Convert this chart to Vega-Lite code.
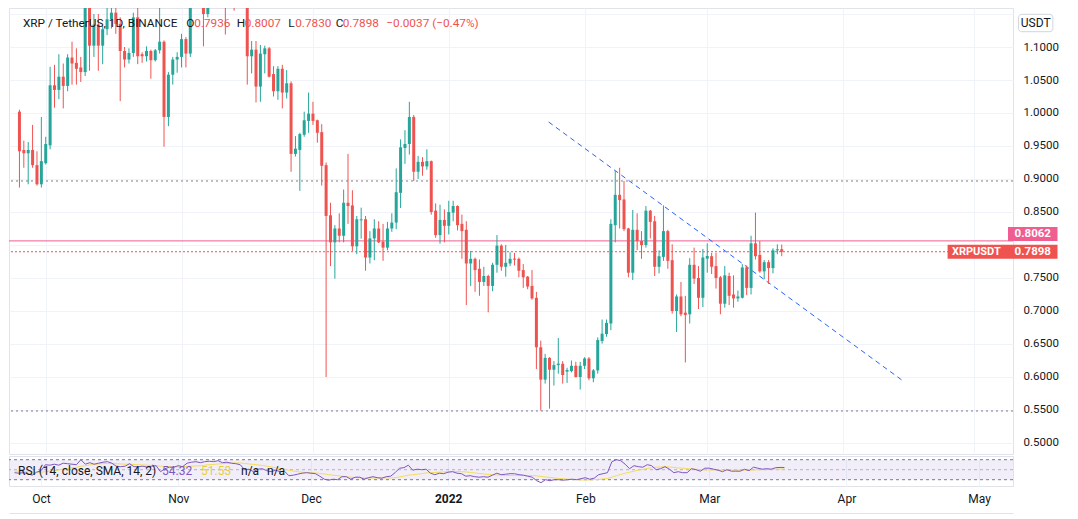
{
"$schema": "https://vega.github.io/schema/vega-lite/v6.json",
"background": "#ffffff",
"padding": {"left": 8, "top": 7, "right": 0, "bottom": 0},
"spacing": 0,
"config": {"font": "Roboto", "view": {"stroke": "#e0e3eb", "strokeWidth": 1},
  "axis": {"labelOverlap": false},
  "axisY": {"labelOverlap": false, "tickCount": 14, "grid": true, "gridColor": "#f0f3fa", "domain": false, "ticks": false, "labelPadding": 10, "labelFontSize": 11.5, "labelColor": "#131722", "labelFont": "Roboto", "labelBound": false, "labelFlush": false}},
"datasets": {
"ohlc": [
{"d":"2021-09-25","o":1.002,"h":1.005,"l":0.887,"c":0.942,"r":44,"s":47},
{"d":"2021-09-26","o":0.944,"h":0.958,"l":0.917,"c":0.939,"r":43,"s":47},
{"d":"2021-09-27","o":0.939,"h":0.956,"l":0.892,"c":0.944,"r":44,"s":46.5},
{"d":"2021-09-28","o":0.944,"h":0.982,"l":0.917,"c":0.921,"r":42,"s":46},
{"d":"2021-09-29","o":0.921,"h":0.942,"l":0.89,"c":0.892,"r":39,"s":45.5},
{"d":"2021-09-30","o":0.892,"h":0.994,"l":0.887,"c":0.927,"r":45,"s":45},
{"d":"2021-10-01","o":0.924,"h":0.964,"l":0.922,"c":0.953,"r":48,"s":45},
{"d":"2021-10-02","o":0.951,"h":1.07,"l":0.945,"c":1.042,"r":60,"s":46},
{"d":"2021-10-03","o":1.042,"h":1.073,"l":1.008,"c":1.035,"r":59,"s":47},
{"d":"2021-10-04","o":1.035,"h":1.089,"l":1.021,"c":1.055,"r":61,"s":48},
{"d":"2021-10-05","o":1.055,"h":1.075,"l":1.007,"c":1.041,"r":59,"s":49.5},
{"d":"2021-10-06","o":1.041,"h":1.089,"l":1.033,"c":1.084,"r":63,"s":51},
{"d":"2021-10-07","o":1.084,"h":1.108,"l":1.043,"c":1.075,"r":62,"s":52.5},
{"d":"2021-10-08","o":1.076,"h":1.098,"l":1.043,"c":1.067,"r":61,"s":54},
{"d":"2021-10-09","o":1.069,"h":1.085,"l":1.047,"c":1.062,"r":60,"s":55},
{"d":"2021-10-10","o":1.062,"h":1.22,"l":1.056,"c":1.185,"r":70,"s":57},
{"d":"2021-10-11","o":1.185,"h":1.205,"l":1.064,"c":1.102,"r":61,"s":58},
{"d":"2021-10-12","o":1.102,"h":1.15,"l":1.085,"c":1.134,"r":64,"s":59.5},
{"d":"2021-10-13","o":1.134,"h":1.15,"l":1.064,"c":1.102,"r":61,"s":60.5},
{"d":"2021-10-14","o":1.102,"h":1.132,"l":1.074,"c":1.127,"r":63,"s":61.5},
{"d":"2021-10-15","o":1.127,"h":1.17,"l":1.118,"c":1.142,"r":65,"s":62},
{"d":"2021-10-16","o":1.142,"h":1.175,"l":1.128,"c":1.152,"r":66,"s":62.5},
{"d":"2021-10-17","o":1.152,"h":1.17,"l":1.12,"c":1.135,"r":63,"s":62.5},
{"d":"2021-10-18","o":1.135,"h":1.145,"l":1.018,"c":1.094,"r":57,"s":62},
{"d":"2021-10-19","o":1.094,"h":1.1,"l":1.069,"c":1.081,"r":56,"s":61.5},
{"d":"2021-10-20","o":1.081,"h":1.098,"l":1.075,"c":1.091,"r":57,"s":61},
{"d":"2021-10-21","o":1.091,"h":1.152,"l":1.085,"c":1.145,"r":62,"s":61},
{"d":"2021-10-22","o":1.145,"h":1.165,"l":1.074,"c":1.086,"r":56,"s":60.5},
{"d":"2021-10-23","o":1.089,"h":1.092,"l":1.076,"c":1.086,"r":56,"s":60},
{"d":"2021-10-24","o":1.086,"h":1.101,"l":1.078,"c":1.094,"r":57,"s":59.5},
{"d":"2021-10-25","o":1.094,"h":1.096,"l":1.052,"c":1.08,"r":55,"s":59},
{"d":"2021-10-26","o":1.08,"h":1.097,"l":1.078,"c":1.095,"r":57,"s":58.5},
{"d":"2021-10-27","o":1.095,"h":1.17,"l":1.09,"c":1.108,"r":58,"s":58},
{"d":"2021-10-28","o":1.108,"h":1.11,"l":0.949,"c":0.994,"r":46,"s":57},
{"d":"2021-10-29","o":0.994,"h":1.062,"l":0.98,"c":1.058,"r":52,"s":56.5},
{"d":"2021-10-30","o":1.058,"h":1.085,"l":1.043,"c":1.081,"r":55,"s":56},
{"d":"2021-10-31","o":1.081,"h":1.092,"l":1.061,"c":1.085,"r":55,"s":55.5},
{"d":"2021-11-01","o":1.085,"h":1.12,"l":1.069,"c":1.112,"r":58,"s":55.5},
{"d":"2021-11-02","o":1.112,"h":1.115,"l":1.069,"c":1.09,"r":56,"s":56},
{"d":"2021-11-03","o":1.09,"h":1.2,"l":1.085,"c":1.185,"r":63,"s":56.5},
{"d":"2021-11-04","o":1.185,"h":1.215,"l":1.165,"c":1.2,"r":65,"s":57},
{"d":"2021-11-05","o":1.2,"h":1.225,"l":1.17,"c":1.185,"r":66,"s":57.5},
{"d":"2021-11-06","o":1.185,"h":1.2,"l":1.101,"c":1.15,"r":64,"s":58},
{"d":"2021-11-07","o":1.15,"h":1.19,"l":1.145,"c":1.18,"r":66,"s":59},
{"d":"2021-11-08","o":1.18,"h":1.24,"l":1.17,"c":1.23,"r":67,"s":60},
{"d":"2021-11-09","o":1.23,"h":1.26,"l":1.2,"c":1.245,"r":66,"s":60.5},
{"d":"2021-11-10","o":1.245,"h":1.35,"l":1.165,"c":1.215,"r":68,"s":61.5},
{"d":"2021-11-11","o":1.215,"h":1.24,"l":1.119,"c":1.18,"r":64,"s":62},
{"d":"2021-11-12","o":1.18,"h":1.22,"l":1.165,"c":1.2,"r":65,"s":62.5},
{"d":"2021-11-13","o":1.2,"h":1.215,"l":1.155,"c":1.175,"r":63,"s":63},
{"d":"2021-11-14","o":1.175,"h":1.21,"l":1.165,"c":1.19,"r":62,"s":63.5},
{"d":"2021-11-15","o":1.19,"h":1.22,"l":1.165,"c":1.175,"r":60,"s":63.5},
{"d":"2021-11-16","o":1.175,"h":1.18,"l":1.043,"c":1.086,"r":50,"s":62.5},
{"d":"2021-11-17","o":1.086,"h":1.109,"l":1.06,"c":1.096,"r":51,"s":61.5},
{"d":"2021-11-18","o":1.096,"h":1.109,"l":1.016,"c":1.04,"r":46,"s":60.5},
{"d":"2021-11-19","o":1.04,"h":1.103,"l":1.017,"c":1.09,"r":51,"s":59.5},
{"d":"2021-11-20","o":1.089,"h":1.102,"l":1.06,"c":1.098,"r":52,"s":58.5},
{"d":"2021-11-21","o":1.098,"h":1.1,"l":1.054,"c":1.055,"r":48,"s":57},
{"d":"2021-11-22","o":1.059,"h":1.071,"l":1.025,"c":1.033,"r":46,"s":55.5},
{"d":"2021-11-23","o":1.033,"h":1.071,"l":1.02,"c":1.067,"r":49,"s":54},
{"d":"2021-11-24","o":1.067,"h":1.073,"l":1.007,"c":1.031,"r":46,"s":52.5},
{"d":"2021-11-25","o":1.031,"h":1.065,"l":1.022,"c":1.045,"r":47,"s":51},
{"d":"2021-11-26","o":1.045,"h":1.048,"l":0.911,"c":0.938,"r":38,"s":49},
{"d":"2021-11-27","o":0.938,"h":0.965,"l":0.934,"c":0.946,"r":39,"s":47.5},
{"d":"2021-11-28","o":0.944,"h":0.97,"l":0.882,"c":0.968,"r":41,"s":46},
{"d":"2021-11-29","o":0.967,"h":1.002,"l":0.964,"c":0.989,"r":43,"s":45},
{"d":"2021-11-30","o":0.988,"h":1.031,"l":0.97,"c":0.999,"r":44,"s":44.5},
{"d":"2021-12-01","o":0.999,"h":1.017,"l":0.982,"c":0.988,"r":43,"s":44},
{"d":"2021-12-02","o":0.989,"h":0.99,"l":0.955,"c":0.97,"r":42,"s":43.5},
{"d":"2021-12-03","o":0.971,"h":0.983,"l":0.89,"c":0.92,"r":37,"s":42.5},
{"d":"2021-12-04","o":0.921,"h":0.925,"l":0.6,"c":0.844,"r":31,"s":41.5},
{"d":"2021-12-05","o":0.845,"h":0.864,"l":0.768,"c":0.804,"r":29,"s":40},
{"d":"2021-12-06","o":0.804,"h":0.83,"l":0.749,"c":0.825,"r":31,"s":39},
{"d":"2021-12-07","o":0.825,"h":0.848,"l":0.804,"c":0.814,"r":30,"s":38},
{"d":"2021-12-08","o":0.814,"h":0.884,"l":0.804,"c":0.864,"r":36,"s":37},
{"d":"2021-12-09","o":0.864,"h":0.938,"l":0.832,"c":0.859,"r":36,"s":36},
{"d":"2021-12-10","o":0.86,"h":0.883,"l":0.791,"c":0.798,"r":31,"s":35},
{"d":"2021-12-11","o":0.798,"h":0.844,"l":0.786,"c":0.839,"r":35,"s":34.5},
{"d":"2021-12-12","o":0.8374,"h":0.8566,"l":0.8096,"c":0.8389,"r":35,"s":34},
{"d":"2021-12-13","o":0.839,"h":0.844,"l":0.761,"c":0.781,"r":31,"s":33.5},
{"d":"2021-12-14","o":0.781,"h":0.821,"l":0.772,"c":0.81,"r":34,"s":33.5},
{"d":"2021-12-15","o":0.81,"h":0.839,"l":0.777,"c":0.825,"r":36,"s":33.5},
{"d":"2021-12-16","o":0.825,"h":0.836,"l":0.803,"c":0.804,"r":34,"s":33.5},
{"d":"2021-12-17","o":0.805,"h":0.832,"l":0.776,"c":0.796,"r":33,"s":33.5},
{"d":"2021-12-18","o":0.796,"h":0.835,"l":0.792,"c":0.825,"r":36,"s":33.5},
{"d":"2021-12-19","o":0.825,"h":0.848,"l":0.82,"c":0.834,"r":37,"s":33.5},
{"d":"2021-12-20","o":0.834,"h":0.916,"l":0.824,"c":0.88,"r":44,"s":34},
{"d":"2021-12-21","o":0.879,"h":0.96,"l":0.856,"c":0.948,"r":53,"s":35.5},
{"d":"2021-12-22","o":0.947,"h":0.974,"l":0.923,"c":0.953,"r":54,"s":37},
{"d":"2021-12-23","o":0.953,"h":1.017,"l":0.937,"c":0.994,"r":59,"s":39},
{"d":"2021-12-24","o":0.994,"h":0.997,"l":0.897,"c":0.911,"r":49,"s":40},
{"d":"2021-12-25","o":0.911,"h":0.935,"l":0.9,"c":0.926,"r":51,"s":41},
{"d":"2021-12-26","o":0.926,"h":0.933,"l":0.905,"c":0.919,"r":50,"s":42},
{"d":"2021-12-27","o":0.919,"h":0.945,"l":0.914,"c":0.927,"r":51,"s":43.5},
{"d":"2021-12-28","o":0.927,"h":0.928,"l":0.846,"c":0.85,"r":43,"s":44},
{"d":"2021-12-29","o":0.852,"h":0.863,"l":0.811,"c":0.815,"r":40,"s":44.5},
{"d":"2021-12-30","o":0.815,"h":0.861,"l":0.802,"c":0.838,"r":43,"s":45},
{"d":"2021-12-31","o":0.838,"h":0.854,"l":0.804,"c":0.829,"r":42,"s":45.5},
{"d":"2022-01-01","o":0.829,"h":0.867,"l":0.816,"c":0.85,"r":45,"s":46},
{"d":"2022-01-02","o":0.849,"h":0.867,"l":0.836,"c":0.859,"r":46,"s":46.5},
{"d":"2022-01-03","o":0.859,"h":0.86,"l":0.822,"c":0.83,"r":43,"s":46.5},
{"d":"2022-01-04","o":0.832,"h":0.846,"l":0.779,"c":0.821,"r":42,"s":46},
{"d":"2022-01-05","o":0.823,"h":0.836,"l":0.709,"c":0.772,"r":37,"s":45.5},
{"d":"2022-01-06","o":0.772,"h":0.791,"l":0.738,"c":0.779,"r":38,"s":44.5},
{"d":"2022-01-07","o":0.779,"h":0.781,"l":0.729,"c":0.762,"r":36,"s":43.5},
{"d":"2022-01-08","o":0.764,"h":0.778,"l":0.723,"c":0.744,"r":35,"s":42.5},
{"d":"2022-01-09","o":0.744,"h":0.767,"l":0.738,"c":0.753,"r":36,"s":41.5},
{"d":"2022-01-10","o":0.753,"h":0.755,"l":0.698,"c":0.738,"r":35,"s":40.5},
{"d":"2022-01-11","o":0.738,"h":0.773,"l":0.73,"c":0.77,"r":39,"s":40},
{"d":"2022-01-12","o":0.77,"h":0.815,"l":0.758,"c":0.799,"r":43,"s":39.5},
{"d":"2022-01-13","o":0.799,"h":0.801,"l":0.761,"c":0.767,"r":40,"s":39},
{"d":"2022-01-14","o":0.767,"h":0.8,"l":0.752,"c":0.773,"r":41,"s":38.5},
{"d":"2022-01-15","o":0.772,"h":0.789,"l":0.768,"c":0.779,"r":42,"s":38.5},
{"d":"2022-01-16","o":0.7793,"h":0.788,"l":0.769,"c":0.7778,"r":42,"s":38.5},
{"d":"2022-01-17","o":0.779,"h":0.781,"l":0.751,"c":0.761,"r":40,"s":38.5},
{"d":"2022-01-18","o":0.762,"h":0.771,"l":0.735,"c":0.751,"r":39,"s":38.5},
{"d":"2022-01-19","o":0.752,"h":0.753,"l":0.733,"c":0.737,"r":37,"s":38.5},
{"d":"2022-01-20","o":0.738,"h":0.762,"l":0.717,"c":0.719,"r":35,"s":38.5},
{"d":"2022-01-21","o":0.72,"h":0.729,"l":0.612,"c":0.645,"r":28,"s":37.5},
{"d":"2022-01-22","o":0.645,"h":0.655,"l":0.549,"c":0.596,"r":24,"s":36.5},
{"d":"2022-01-23","o":0.596,"h":0.635,"l":0.59,"c":0.629,"r":30,"s":35.5},
{"d":"2022-01-24","o":0.629,"h":0.63,"l":0.552,"c":0.611,"r":28,"s":34.5},
{"d":"2022-01-25","o":0.611,"h":0.624,"l":0.587,"c":0.618,"r":30,"s":33.5},
{"d":"2022-01-26","o":0.618,"h":0.659,"l":0.605,"c":0.6202,"r":30,"s":32.5},
{"d":"2022-01-27","o":0.62,"h":0.624,"l":0.59,"c":0.603,"r":29,"s":32},
{"d":"2022-01-28","o":0.6081,"h":0.614,"l":0.591,"c":0.6106,"r":30,"s":31},
{"d":"2022-01-29","o":0.609,"h":0.625,"l":0.607,"c":0.617,"r":31,"s":30.5},
{"d":"2022-01-30","o":0.617,"h":0.623,"l":0.599,"c":0.6,"r":30,"s":30},
{"d":"2022-01-31","o":0.6,"h":0.623,"l":0.581,"c":0.617,"r":32,"s":29.5},
{"d":"2022-02-01","o":0.617,"h":0.63,"l":0.612,"c":0.628,"r":34,"s":29.5},
{"d":"2022-02-02","o":0.628,"h":0.63,"l":0.595,"c":0.598,"r":31,"s":29.5},
{"d":"2022-02-03","o":0.598,"h":0.612,"l":0.592,"c":0.61,"r":33,"s":30},
{"d":"2022-02-04","o":0.61,"h":0.66,"l":0.605,"c":0.656,"r":40,"s":30.5},
{"d":"2022-02-05","o":0.6545,"h":0.687,"l":0.6505,"c":0.6656,"r":42,"s":31.5},
{"d":"2022-02-06","o":0.665,"h":0.687,"l":0.661,"c":0.682,"r":44,"s":32.5},
{"d":"2022-02-07","o":0.681,"h":0.839,"l":0.671,"c":0.832,"r":66,"s":35},
{"d":"2022-02-08","o":0.83,"h":0.912,"l":0.804,"c":0.876,"r":70,"s":38},
{"d":"2022-02-09","o":0.876,"h":0.917,"l":0.825,"c":0.868,"r":68,"s":40.5},
{"d":"2022-02-10","o":0.869,"h":0.897,"l":0.821,"c":0.824,"r":61,"s":43},
{"d":"2022-02-11","o":0.825,"h":0.826,"l":0.751,"c":0.758,"r":52,"s":45},
{"d":"2022-02-12","o":0.758,"h":0.853,"l":0.747,"c":0.823,"r":58,"s":47},
{"d":"2022-02-13","o":0.823,"h":0.848,"l":0.792,"c":0.806,"r":56,"s":49},
{"d":"2022-02-14","o":0.806,"h":0.821,"l":0.779,"c":0.8,"r":55,"s":50.5},
{"d":"2022-02-15","o":0.8,"h":0.859,"l":0.796,"c":0.852,"r":60,"s":52.5},
{"d":"2022-02-16","o":0.852,"h":0.853,"l":0.81,"c":0.835,"r":58,"s":54},
{"d":"2022-02-17","o":0.836,"h":0.844,"l":0.753,"c":0.767,"r":50,"s":55},
{"d":"2022-02-18","o":0.767,"h":0.792,"l":0.757,"c":0.783,"r":52,"s":55.5},
{"d":"2022-02-19","o":0.782,"h":0.86,"l":0.776,"c":0.821,"r":56,"s":56},
{"d":"2022-02-20","o":0.821,"h":0.823,"l":0.764,"c":0.776,"r":51,"s":55.5},
{"d":"2022-02-21","o":0.777,"h":0.801,"l":0.696,"c":0.7,"r":44,"s":54.5},
{"d":"2022-02-22","o":0.7,"h":0.725,"l":0.668,"c":0.722,"r":46,"s":53.5},
{"d":"2022-02-23","o":0.722,"h":0.744,"l":0.692,"c":0.695,"r":44,"s":53},
{"d":"2022-02-24","o":0.6975,"h":0.723,"l":0.622,"c":0.694,"r":44,"s":52},
{"d":"2022-02-25","o":0.695,"h":0.78,"l":0.681,"c":0.77,"r":52,"s":51.5},
{"d":"2022-02-26","o":0.77,"h":0.796,"l":0.741,"c":0.749,"r":50,"s":51},
{"d":"2022-02-27","o":0.75,"h":0.768,"l":0.703,"c":0.72,"r":47,"s":50},
{"d":"2022-02-28","o":0.72,"h":0.794,"l":0.706,"c":0.781,"r":53,"s":49.5},
{"d":"2022-03-01","o":0.7793,"h":0.8025,"l":0.758,"c":0.7833,"r":53,"s":49.5},
{"d":"2022-03-02","o":0.783,"h":0.788,"l":0.756,"c":0.767,"r":51,"s":49.5},
{"d":"2022-03-03","o":0.768,"h":0.788,"l":0.734,"c":0.75,"r":49,"s":49.5},
{"d":"2022-03-04","o":0.751,"h":0.753,"l":0.695,"c":0.711,"r":46,"s":49},
{"d":"2022-03-05","o":0.711,"h":0.768,"l":0.705,"c":0.754,"r":50,"s":49},
{"d":"2022-03-06","o":0.753,"h":0.758,"l":0.709,"c":0.723,"r":47,"s":49},
{"d":"2022-03-07","o":0.725,"h":0.754,"l":0.705,"c":0.719,"r":47,"s":49},
{"d":"2022-03-08","o":0.719,"h":0.731,"l":0.714,"c":0.722,"r":47,"s":49},
{"d":"2022-03-09","o":0.72,"h":0.771,"l":0.719,"c":0.766,"r":51,"s":49},
{"d":"2022-03-10","o":0.766,"h":0.769,"l":0.724,"c":0.735,"r":48,"s":49},
{"d":"2022-03-11","o":0.735,"h":0.814,"l":0.725,"c":0.8025,"r":55,"s":49.5},
{"d":"2022-03-12","o":0.8025,"h":0.849,"l":0.778,"c":0.783,"r":53,"s":50},
{"d":"2022-03-13","o":0.785,"h":0.806,"l":0.758,"c":0.76,"r":51,"s":50},
{"d":"2022-03-14","o":0.76,"h":0.777,"l":0.748,"c":0.774,"r":52,"s":50.5},
{"d":"2022-03-15","o":0.774,"h":0.777,"l":0.741,"c":0.765,"r":51,"s":50.5},
{"d":"2022-03-16","o":0.765,"h":0.795,"l":0.757,"c":0.792,"r":54,"s":51},
{"d":"2022-03-17","o":0.7919,"h":0.801,"l":0.786,"c":0.7935,"r":54.6,"s":51.3},
{"d":"2022-03-18","o":0.7936,"h":0.8007,"l":0.783,"c":0.7898,"r":54.32,"s":51.53}
],
"trend": [
{"d":"2022-01-23T19:00:00Z","p":0.98636},
{"d":"2022-04-14T17:00:00Z","p":0.59394}
]
},
"vconcat": [
{
"width": 1004,
"height": 446,
"data": {"name": "ohlc"},
"layer": [
{"data": {"values": [{"p": 0.897}, {"p": 0.5485}]},
 "mark": {"type": "rule", "color": "#787b86", "strokeDash": [2, 3], "strokeWidth": 1},
 "encoding": {"y": {"field": "p", "type": "quantitative", "title": null, "scale": {"domain": [0.4833, 1.1591], "zero": false, "nice": false},
   "axis": {"orient": "right", "values": [0.5,0.55,0.6,0.65,0.7,0.75,0.8,0.85,0.9,0.95,1.0,1.05,1.1,1.15], "tickCount": 14, "labelExpr": "(abs(datum.value - 0.8) < 0.001 || datum.value > 1.12) ? '' : format(datum.value, '.4f')", "labelOverlap": false, "labelBound": false, "labelFlush": false, "grid": true, "gridColor": "#f0f3fa", "domain": false, "ticks": false, "labelPadding": 10, "labelFontSize": 11.5, "labelColor": "#131722", "labelFont": "Roboto", "title": null}}}},
{"data": {"values": [{"p": 0.8062}]},
 "mark": {"type": "rule", "color": "#ef5d91", "strokeWidth": 1},
 "encoding": {"y": {"field": "p", "type": "quantitative", "title": null, "scale": {"domain": [0.4833, 1.1591], "zero": false, "nice": false}}}},
{"data": {"values": [{"p": 0.7898}]},
 "mark": {"type": "rule", "color": "#ef5350", "strokeDash": [2, 2], "strokeWidth": 1},
 "encoding": {"y": {"field": "p", "type": "quantitative", "title": null, "scale": {"domain": [0.4833, 1.1591], "zero": false, "nice": false}}}},
{"data": {"name": "trend"},
 "mark": {"type": "line", "color": "#2962ff", "strokeDash": [5, 4], "strokeWidth": 1, "clip": true},
 "encoding": {
   "x": {"field": "d", "type": "temporal", "title": null, "scale": {"type": "utc", "domain": [{"year":2021,"month":9,"date":23,"hours":18,"minutes":10,"utc":true},{"year":2022,"month":5,"date":8,"hours":15,"minutes":36,"utc":true}]}},
   "y": {"field": "p", "type": "quantitative", "title": null, "scale": {"domain": [0.4833, 1.1591], "zero": false, "nice": false}}}},
{"mark": {"type": "rule", "strokeWidth": 1, "clip": true},
 "encoding": {
   "x": {"field": "d", "type": "temporal", "title": null, "scale": {"type": "utc", "domain": [{"year":2021,"month":9,"date":23,"hours":18,"minutes":10,"utc":true},{"year":2022,"month":5,"date":8,"hours":15,"minutes":36,"utc":true}]},
     "axis": {"values": [{"year":2021,"month":10,"date":1,"utc":true},{"year":2021,"month":11,"date":1,"utc":true},{"year":2021,"month":12,"date":1,"utc":true},{"year":2022,"month":1,"date":1,"utc":true},{"year":2022,"month":2,"date":1,"utc":true},{"year":2022,"month":3,"date":1,"utc":true},{"year":2022,"month":4,"date":1,"utc":true},{"year":2022,"month":5,"date":1,"utc":true}], "labels": false, "ticks": false, "domain": false, "grid": true, "gridColor": "#f0f3fa", "title": null}},
   "y": {"field": "l", "type": "quantitative", "title": null, "scale": {"domain": [0.4833, 1.1591], "zero": false, "nice": false}},
   "y2": {"field": "h"},
   "color": {"condition": {"test": "datum.c >= datum.o", "value": "#26a69a"}, "value": "#ef5350"}}},
{"mark": {"type": "bar", "size": 3, "clip": true},
 "encoding": {
   "x": {"field": "d", "type": "temporal", "title": null, "scale": {"type": "utc", "domain": [{"year":2021,"month":9,"date":23,"hours":18,"minutes":10,"utc":true},{"year":2022,"month":5,"date":8,"hours":15,"minutes":36,"utc":true}]}},
   "y": {"field": "o", "type": "quantitative", "title": null, "scale": {"domain": [0.4833, 1.1591], "zero": false, "nice": false}},
   "y2": {"field": "c"},
   "color": {"condition": {"test": "datum.c >= datum.o", "value": "#26a69a"}, "value": "#ef5350"}}},
{"data": {"values": [{}]},
 "mark": {"type": "rect", "color": "#ef5350"},
 "encoding": {
   "x": {"datum": {"year":2022,"month":4,"date":24,"hours":20,"minutes":40,"utc":true}, "type": "temporal", "scale": {"type": "utc"}},
   "x2": {"datum": {"year":2022,"month":5,"date":19,"hours":22,"minutes":50,"utc":true}},
   "y": {"datum": 0.7793, "type": "quantitative"},
   "y2": {"datum": 0.8003}}},
{"data": {"values": [{}]},
 "mark": {"type": "rect", "color": "#ef5d91"},
 "encoding": {
   "x": {"datum": {"year":2022,"month":5,"date":8,"hours":15,"minutes":36,"utc":true}, "type": "temporal", "scale": {"type": "utc"}},
   "x2": {"datum": {"year":2022,"month":5,"date":19,"hours":22,"minutes":50,"utc":true}},
   "y": {"datum": 0.80606, "type": "quantitative"},
   "y2": {"datum": 0.82727}}},
{"data": {"values": [{}]},
 "mark": {"type": "rect", "fill": "#ffffff", "stroke": "#d1d4dc", "strokeWidth": 1, "cornerRadius": 3},
 "encoding": {
   "x": {"datum": {"year":2022,"month":5,"date":11,"hours":1,"minutes":40,"utc":true}, "type": "temporal", "scale": {"type": "utc"}},
   "x2": {"datum": {"year":2022,"month":5,"date":18,"hours":21,"minutes":20,"utc":true}},
   "y": {"datum": 1.1232, "type": "quantitative"},
   "y2": {"datum": 1.1495}}},
{"data": {"values": [{}]},
 "mark": {"type": "text", "align": "center", "baseline": "middle", "fontSize": 12, "color": "#131722", "text": "USDT"},
 "encoding": {"x": {"datum": {"year":2022,"month":5,"date":14,"hours":23,"minutes":30,"utc":true}, "type": "temporal", "scale": {"type": "utc"}}, "y": {"datum": 1.1364, "type": "quantitative"}}},
{"data": {"values": [{}]},
 "mark": {"type": "text", "align": "center", "baseline": "middle", "fontSize": 11, "fontWeight": "bold", "color": "#ffffff", "text": "XRPUSDT"},
 "encoding": {"x": {"datum": {"year":2022,"month":5,"date":1,"hours":10,"minutes":5,"utc":true}, "type": "temporal", "scale": {"type": "utc"}}, "y": {"datum": 0.7898, "type": "quantitative"}}},
{"data": {"values": [{}]},
 "mark": {"type": "text", "align": "center", "baseline": "middle", "fontSize": 11.5, "fontWeight": "bold", "color": "#ffffff", "text": "0.7898"},
 "encoding": {"x": {"datum": {"year":2022,"month":5,"date":14,"hours":7,"minutes":12,"utc":true}, "type": "temporal", "scale": {"type": "utc"}}, "y": {"datum": 0.7898, "type": "quantitative"}}},
{"data": {"values": [{}]},
 "mark": {"type": "text", "align": "center", "baseline": "middle", "fontSize": 11.5, "fontWeight": "bold", "color": "#ffffff", "text": "0.8062"},
 "encoding": {"x": {"datum": {"year":2022,"month":5,"date":14,"hours":7,"minutes":12,"utc":true}, "type": "temporal", "scale": {"type": "utc"}}, "y": {"datum": 0.81667, "type": "quantitative"}}},
{"data": {"values": [{}]},
 "mark": {"type": "text", "align": "left", "baseline": "middle", "fontSize": 11.8, "color": "#131722", "text": "XRP / TetherUS, 1D, BINANCE"},
 "encoding": {"x": {"datum": {"year":2021,"month":9,"date":25,"hours":19,"utc":true}, "type": "temporal", "scale": {"type": "utc"}}, "y": {"datum": 1.1371, "type": "quantitative"}}},
{"data": {"values": [{}]},
 "mark": {"type": "text", "align": "left", "baseline": "middle", "fontSize": 11.8, "color": "#131722", "text": "O"},
 "encoding": {"x": {"datum": {"year":2021,"month":11,"date":2,"hours":2,"utc":true}, "type": "temporal", "scale": {"type": "utc"}}, "y": {"datum": 1.1371, "type": "quantitative"}}},
{"data": {"values": [{}]},
 "mark": {"type": "text", "align": "left", "baseline": "middle", "fontSize": 11.8, "color": "#ef5350", "text": "0.7936"},
 "encoding": {"x": {"datum": {"year":2021,"month":11,"date":3,"hours":21,"minutes":20,"utc":true}, "type": "temporal", "scale": {"type": "utc"}}, "y": {"datum": 1.1371, "type": "quantitative"}}},
{"data": {"values": [{}]},
 "mark": {"type": "text", "align": "left", "baseline": "middle", "fontSize": 11.8, "color": "#131722", "text": "H"},
 "encoding": {"x": {"datum": {"year":2021,"month":11,"date":13,"hours":14,"minutes":24,"utc":true}, "type": "temporal", "scale": {"type": "utc"}}, "y": {"datum": 1.1371, "type": "quantitative"}}},
{"data": {"values": [{}]},
 "mark": {"type": "text", "align": "left", "baseline": "middle", "fontSize": 11.8, "color": "#ef5350", "text": "0.8007"},
 "encoding": {"x": {"datum": {"year":2021,"month":11,"date":15,"hours":9,"minutes":50,"utc":true}, "type": "temporal", "scale": {"type": "utc"}}, "y": {"datum": 1.1371, "type": "quantitative"}}},
{"data": {"values": [{}]},
 "mark": {"type": "text", "align": "left", "baseline": "middle", "fontSize": 11.8, "color": "#131722", "text": "L"},
 "encoding": {"x": {"datum": {"year":2021,"month":11,"date":25,"hours":8,"minutes":38,"utc":true}, "type": "temporal", "scale": {"type": "utc"}}, "y": {"datum": 1.1371, "type": "quantitative"}}},
{"data": {"values": [{}]},
 "mark": {"type": "text", "align": "left", "baseline": "middle", "fontSize": 11.8, "color": "#ef5350", "text": "0.7830"},
 "encoding": {"x": {"datum": {"year":2021,"month":11,"date":26,"hours":22,"minutes":35,"utc":true}, "type": "temporal", "scale": {"type": "utc"}}, "y": {"datum": 1.1371, "type": "quantitative"}}},
{"data": {"values": [{}]},
 "mark": {"type": "text", "align": "left", "baseline": "middle", "fontSize": 11.8, "color": "#131722", "text": "C"},
 "encoding": {"x": {"datum": {"year":2021,"month":12,"date":6,"hours":4,"minutes":48,"utc":true}, "type": "temporal", "scale": {"type": "utc"}}, "y": {"datum": 1.1371, "type": "quantitative"}}},
{"data": {"values": [{}]},
 "mark": {"type": "text", "align": "left", "baseline": "middle", "fontSize": 11.8, "color": "#ef5350", "text": "0.7898"},
 "encoding": {"x": {"datum": {"year":2021,"month":12,"date":7,"hours":19,"utc":true}, "type": "temporal", "scale": {"type": "utc"}}, "y": {"datum": 1.1371, "type": "quantitative"}}},
{"data": {"values": [{}]},
 "mark": {"type": "text", "align": "left", "baseline": "middle", "fontSize": 11.8, "color": "#ef5350", "text": "−0.0037 (−0.47%)"},
 "encoding": {"x": {"datum": {"year":2021,"month":12,"date":17,"hours":17,"minutes":30,"utc":true}, "type": "temporal", "scale": {"type": "utc"}}, "y": {"datum": 1.1371, "type": "quantitative"}}}
]
},
{
"width": 1004,
"height": 30,
"data": {"name": "ohlc"},
"layer": [
{"data": {"values": [{}]},
 "mark": {"type": "rect", "color": "#7e57c2", "opacity": 0.1},
 "encoding": {"y": {"datum": 30, "type": "quantitative", "scale": {"domain": [17.4, 77.4], "zero": false, "nice": false}, "axis": null}, "y2": {"datum": 70}}},
{"data": {"values": [{"v": 70}, {"v": 30}]},
 "mark": {"type": "rule", "color": "#787b86", "strokeDash": [3, 3], "strokeWidth": 1},
 "encoding": {"y": {"field": "v", "type": "quantitative", "scale": {"domain": [17.4, 77.4], "zero": false, "nice": false}, "axis": null}}},
{"data": {"values": [{"v": 50}]},
 "mark": {"type": "rule", "color": "#787b86", "opacity": 0.5, "strokeDash": [3, 3], "strokeWidth": 1},
 "encoding": {"y": {"field": "v", "type": "quantitative", "scale": {"domain": [17.4, 77.4], "zero": false, "nice": false}, "axis": null}}},
{"mark": {"type": "line", "color": "#f2dc5d", "strokeWidth": 1, "clip": true},
 "encoding": {
   "x": {"field": "d", "type": "temporal", "title": null, "scale": {"type": "utc", "domain": [{"year":2021,"month":9,"date":23,"hours":18,"minutes":10,"utc":true},{"year":2022,"month":5,"date":8,"hours":15,"minutes":36,"utc":true}]},
     "axis": {"values": [{"year":2021,"month":10,"date":1,"utc":true},{"year":2021,"month":11,"date":1,"utc":true},{"year":2021,"month":12,"date":1,"utc":true},{"year":2022,"month":1,"date":1,"utc":true},{"year":2022,"month":2,"date":1,"utc":true},{"year":2022,"month":3,"date":1,"utc":true},{"year":2022,"month":4,"date":1,"utc":true},{"year":2022,"month":5,"date":1,"utc":true}],
       "orient": "bottom", "grid": true, "gridColor": "#f0f3fa", "ticks": false, "domain": true, "domainColor": "#e0e3eb", "offset": 27, "labelPadding": -20, "labelFontSize": 12, "labelFont": "Roboto", "labelColor": "#131722", "labelFlush": false, "labelOverlap": false,
       "labelExpr": "utcmonth(datum.value) == 0 ? utcFormat(datum.value, '%Y') : utcFormat(datum.value, '%b')",
       "labelFontWeight": {"condition": {"test": "utcmonth(datum.value) == 0", "value": "bold"}, "value": "normal"},
       "title": null}},
   "y": {"field": "s", "type": "quantitative", "scale": {"domain": [17.4, 77.4], "zero": false, "nice": false}, "axis": null}}},
{"mark": {"type": "line", "color": "#7e57c2", "strokeWidth": 1, "clip": true},
 "encoding": {
   "x": {"field": "d", "type": "temporal", "title": null, "scale": {"type": "utc", "domain": [{"year":2021,"month":9,"date":23,"hours":18,"minutes":10,"utc":true},{"year":2022,"month":5,"date":8,"hours":15,"minutes":36,"utc":true}]}},
   "y": {"field": "r", "type": "quantitative", "scale": {"domain": [17.4, 77.4], "zero": false, "nice": false}, "axis": null}}},
{"data": {"values": [{}]},
 "mark": {"type": "text", "align": "left", "baseline": "middle", "fontSize": 12, "color": "#131722", "text": "RSI (14, close, SMA, 14, 2)"},
 "encoding": {"x": {"datum": {"year":2021,"month":9,"date":25,"hours":19,"utc":true}, "type": "temporal", "scale": {"type": "utc"}}, "y": {"datum": 46.5, "type": "quantitative", "axis": null}}},
{"data": {"values": [{}]},
 "mark": {"type": "text", "align": "left", "baseline": "middle", "fontSize": 12, "color": "#7e57c2", "text": "54.32"},
 "encoding": {"x": {"datum": {"year":2021,"month":10,"date":28,"hours":8,"utc":true}, "type": "temporal", "scale": {"type": "utc"}}, "y": {"datum": 46.5, "type": "quantitative", "axis": null}}},
{"data": {"values": [{}]},
 "mark": {"type": "text", "align": "left", "baseline": "middle", "fontSize": 12, "color": "#e8cf3a", "text": "51.53"},
 "encoding": {"x": {"datum": {"year":2021,"month":11,"date":6,"hours":3,"minutes":35,"utc":true}, "type": "temporal", "scale": {"type": "utc"}}, "y": {"datum": 46.5, "type": "quantitative", "axis": null}}},
{"data": {"values": [{}]},
 "mark": {"type": "text", "align": "left", "baseline": "middle", "fontSize": 12, "color": "#131722", "text": "n/a"},
 "encoding": {"x": {"datum": {"year":2021,"month":11,"date":15,"hours":4,"minutes":30,"utc":true}, "type": "temporal", "scale": {"type": "utc"}}, "y": {"datum": 46.5, "type": "quantitative", "axis": null}}},
{"data": {"values": [{}]},
 "mark": {"type": "text", "align": "left", "baseline": "middle", "fontSize": 12, "color": "#131722", "text": "n/a"},
 "encoding": {"x": {"datum": {"year":2021,"month":11,"date":21,"hours":1,"minutes":30,"utc":true}, "type": "temporal", "scale": {"type": "utc"}}, "y": {"datum": 46.5, "type": "quantitative", "axis": null}}}
]
}
]
}
